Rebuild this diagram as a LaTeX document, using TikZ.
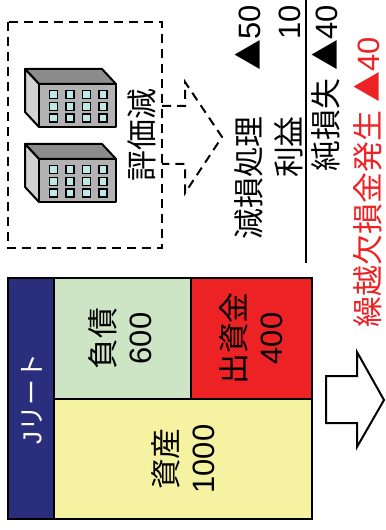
\documentclass[tikz,border=0pt]{standalone}
\usepackage{fontspec}
\setmainfont{Liberation Sans}
\newfontfamily\jp{Noto Sans CJK JP}
\definecolor{navy}{RGB}{42,46,124}
\definecolor{debtgreen}{RGB}{205,229,197}
\definecolor{equityred}{RGB}{237,34,36}
\definecolor{assetyellow}{RGB}{245,242,162}
\definecolor{bldtop}{RGB}{140,140,140}
\definecolor{bldfront}{RGB}{178,178,178}
\definecolor{bldside}{RGB}{210,210,210}
\definecolor{bldwin}{RGB}{192,232,232}
\begin{document}
\begin{tikzpicture}[x=1bp,y=-1bp,
  cell/.style={draw=black,line width=2bp},
  txt/.style={rotate=90,inner sep=0pt,align=center,font=\fontsize{31}{37}\selectfont},
  dashline/.style={draw=black,line width=2bp,dash pattern=on 9bp off 6bp},
  bface/.style={draw=black,line width=2bp,line join=round},
  building/.pic={
    \filldraw[bface,fill=bldtop] (0,0) -- (-14,-15) -- (63,-15) -- (77,0) -- cycle;
    \filldraw[bface,fill=bldside] (0,0) -- (-14,-15) -- (-14,28) -- (0,43) -- cycle;
    \filldraw[bface,fill=bldfront] (0,0) rectangle (77,43);
    \foreach \i in {0,...,3}
      \foreach \j in {0,1,2}
        \filldraw[line width=1.6bp,fill=bldwin] ({10.5+16.5*\i},{6.7+11.7*\j}) rectangle +(8,8);
  }]
\useasboundingbox (0,0) rectangle (385,530);

% impaired properties
\draw[dashline] (8,22) rectangle (162,248);
\pic at (39,84) {building};
\pic at (39,159) {building};
\node[txt] (hyoka) at (142,135) {\jp 評価減};

% dashed arrow leading to the income figures
\draw[dashline,line join=miter] (162,106) -- (185,106) -- (185,82) -- (222,137)
  -- (185,193) -- (185,164) -- (162,164);

% income statement
\node[txt,anchor=base east] (genson) at (260.5,116) {\jp 減損処理};
\node[txt,anchor=base east] (v50) at (260.5,5) {{\jp ▲}50};
\node[txt,anchor=base east] (rieki) at (300.5,116) {\jp 利益};
\node[txt,anchor=base east] (v10) at (300.5,5) {10};
\coordinate (ruleA) at (306,0);
\coordinate (ruleB) at (306,263);
\draw[line width=2.5bp] (ruleA) -- (ruleB);
\node[txt,anchor=base east] (junson) at (337,5) {{\jp 純損失} {\jp ▲}40};
\node[txt,anchor=base east,text=equityred] (kurikoshi) at (379,37) {{\jp 繰越欠損金発生} {\jp ▲}40};

% balance sheet
\filldraw[cell,fill=navy] (8,278) rectangle (54,519);
\filldraw[cell,fill=debtgreen] (54,278) rectangle (191,399);
\filldraw[cell,fill=equityred] (191,278) rectangle (312,399);
\filldraw[cell,fill=assetyellow] (54,399) rectangle (312,519);
\node[txt,text=white,font=\fontsize{26}{30}\selectfont] (jreit) at (32,399) {J{\jp リート}};
\node[txt] (fusai) at (120,338.5) {{\jp 負債}\\600};
\node[txt] (shusshi) at (251.5,338.5) {{\jp 出資金}\\400};
\node[txt] (shisan) at (183.5,459) {{\jp 資産}\\1000};

% block arrow
\draw[line width=2bp,fill=white] (326,376) -- (357,376) -- (357,352) -- (384,400)
  -- (357,447) -- (357,423) -- (326,423) -- cycle;
\end{tikzpicture}
\end{document}
